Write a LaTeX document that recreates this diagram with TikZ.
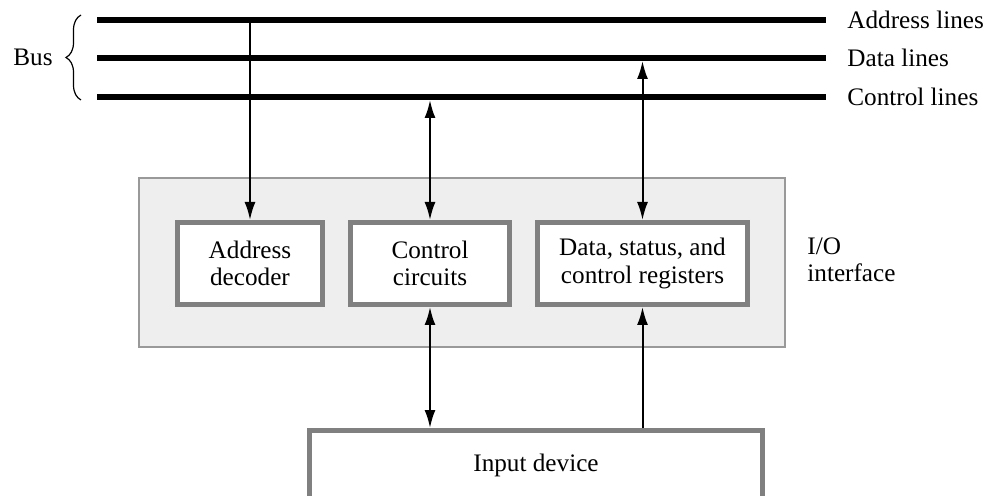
\documentclass[tikz,border=0pt]{standalone}
\usepackage{fontspec}
\setmainfont{Liberation Serif}
\usetikzlibrary{arrows.meta, decorations.pathreplacing}
\tikzstyle{iface} = [rectangle, minimum width=323pt, minimum height=84.5pt, draw=gray!80, line width=1pt, fill=gray!13]
\tikzstyle{unit} = [rectangle, minimum height=41pt, align=center, inner sep=0pt, draw=gray, line width=2.5pt, fill=white]
\tikzstyle{busline} = [line width=3pt]
\tikzstyle{arrow} = [line width=1pt, -{Latex[length=9pt,width=5.5pt]}]
\tikzstyle{darrow} = [line width=1pt, {Latex[length=9pt,width=5.5pt]}-{Latex[length=9pt,width=5.5pt]}]
\tikzstyle{buslabel} = [anchor=west, inner sep=0pt]

\begin{document}
\begin{tikzpicture}[x=0.5pt, y=-0.5pt, font=\fontsize{12.6}{13.6}\selectfont]
\useasboundingbox (0,0) rectangle (989,496);

% bus
\coordinate (al) at (97,20);  \coordinate (ar) at (826,20);
\coordinate (dl) at (97,58);  \coordinate (dr) at (826,58);
\coordinate (cl) at (97,97);  \coordinate (cr) at (826,97);
\draw [busline] (al) -- (ar);
\draw [busline] (dl) -- (dr);
\draw [busline] (cl) -- (cr);
\node [buslabel] (alab) at (847,20) {Address lines};
\node [buslabel] (dlab) at (847,58) {Data lines};
\node [buslabel] (clab) at (847,97) {Control lines};
\node (bus) at (33,57) {Bus};
\draw [decorate, decoration={brace, amplitude=7.5pt}, line width=0.6pt] (81,100) -- (81,15);

% interface
\node (io) [iface] at (462,262.5) {};
\node (adec) [unit, minimum width=72.5pt] at (250,263.5) {Address\\decoder};
\node (ctrl) [unit, minimum width=79.5pt] at (430,263.5) {Control\\circuits};
\node (regs) [unit, minimum width=105pt] at (642.5,263.5) {Data, status, and\\control registers};
\node (iolab) [buslabel, align=left] at (807,260) {I/O\\interface};
\node (indev) [unit, minimum width=226.5pt, minimum height=34.75pt] at (536,465.25) {Input device};

% taps
\coordinate (atap) at (250,20);
\coordinate (ctap) at (430,100);
\coordinate (dtap) at (642.5,61);

\draw [arrow] (atap) -- (adec.north);
\draw [darrow] (ctap) -- (ctrl.north);
\draw [darrow] (dtap) -- (regs.north);
\draw [darrow] (ctrl.south) -- (ctrl.south |- indev.north);
\draw [arrow] (indev.north -| regs.south) -- (regs.south);

\end{tikzpicture}
\end{document}
